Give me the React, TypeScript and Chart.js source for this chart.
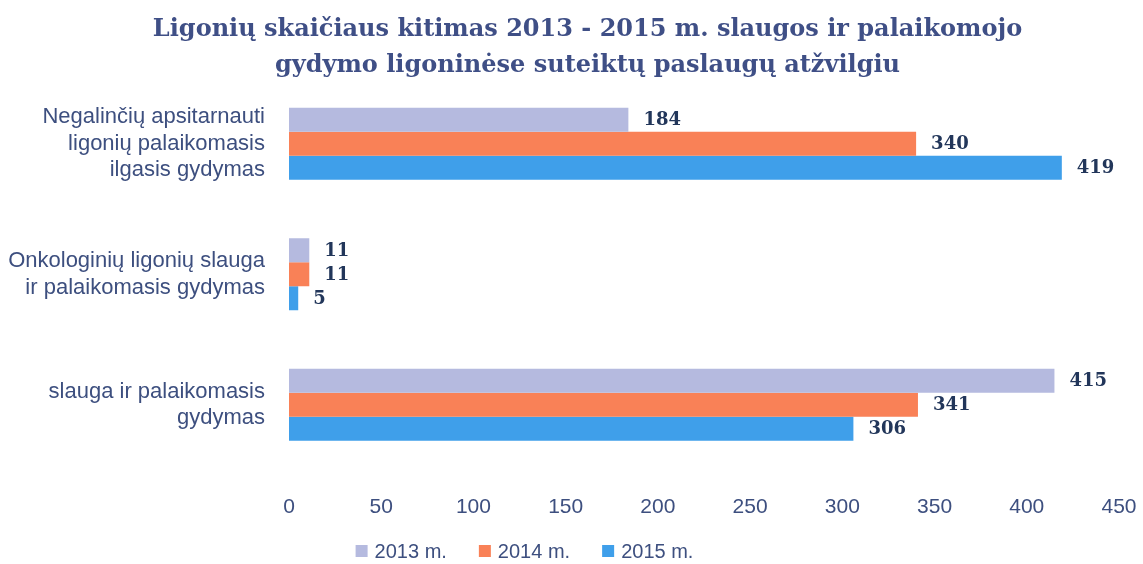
import React, { useEffect, useRef } from "react";
import { Chart, registerables } from "chart.js";

Chart.register(...registerables);

const titleLines = [
  "Ligonių skaičiaus kitimas 2013 - 2015 m. slaugos ir palaikomojo",
  "gydymo ligoninėse suteiktų paslaugų atžvilgiu",
];
const categories = [
  ["Negalinčių apsitarnauti", "ligonių palaikomasis", "ilgasis gydymas"],
  ["Onkologinių ligonių slauga", "ir palaikomasis gydymas"],
  ["slauga ir palaikomasis", "gydymas"],
];
const seriesNames = ["2013 m.", "2014 m.", "2015 m."];
const values2013 = [184, 11, 415];
const values2014 = [340, 11, 341];
const values2015 = [419, 5, 306];
const seriesColors = ["#b5badf", "#f98157", "#3f9fea"];
const xMin = 0;
const xMax = 450;
const xStep = 50;

const textColor = "#3d4f7f";
const labelColor = "#22365a";

const shiftPlugin = {
  id: "shiftBoxes",
  afterLayout(chart: any) {
    const tb = chart.titleBlock;
    if (tb) {
      tb.left += 16;
      tb.right += 16;
    }
  },
};

// legend drawn from the datasets' labels and colours
const bottomLegend = {
  id: "bottomLegend",
  afterDraw(chart: any) {
    const ctx = chart.ctx;
    ctx.save();
    ctx.font = "20px 'Liberation Sans'";
    ctx.textBaseline = "middle";
    ctx.textAlign = "left";
    const box = 12;
    const gap = 7;
    const itemGap = 32;
    const items = chart.data.datasets.map((ds: any) => ({
      text: ds.label,
      color: ds.backgroundColor,
      w: ctx.measureText(ds.label).width,
    }));
    const total =
      items.reduce((a: number, it: any) => a + box + gap + it.w, 0) +
      itemGap * (items.length - 1);
    let x = chart.width / 2 - 47 - total / 2;
    const y = 551;
    items.forEach((it: any) => {
      ctx.fillStyle = it.color;
      ctx.fillRect(x, y - box / 2, box, box);
      x += box + gap;
      ctx.fillStyle = textColor;
      ctx.fillText(it.text, x, y + 1);
      x += it.w + itemGap;
    });
    ctx.restore();
  },
};

const valueLabels = {
  id: "valueLabels",
  afterDatasetsDraw(chart: any) {
    const ctx = chart.ctx;
    ctx.save();
    ctx.font = "bold 18px 'DejaVu Serif'";
    ctx.fillStyle = labelColor;
    ctx.textAlign = "left";
    ctx.textBaseline = "middle";
    chart.data.datasets.forEach((ds: any, i: number) => {
      const meta = chart.getDatasetMeta(i);
      meta.data.forEach((el: any, j: number) => {
        ctx.fillText(String(ds.data[j]), el.x + 15, el.y + 1);
      });
    });
    ctx.restore();
  },
};

export default function App() {
  const ref = useRef<HTMLCanvasElement | null>(null);
  useEffect(() => {
    document.body.style.margin = "0";
    const data = [values2013, values2014, values2015];
    const chart = new Chart(ref.current as HTMLCanvasElement, {
      type: "bar",
      data: {
        labels: categories as any,
        datasets: seriesNames.map((name, i) => ({
          label: name,
          data: data[i],
          backgroundColor: seriesColors[i],
          borderWidth: 0,
          categoryPercentage: 0.55,
          barPercentage: 1.0,
        })),
      },
      options: {
        indexAxis: "y",
        animation: false,
        responsive: false,
        maintainAspectRatio: false,
        layout: { padding: { left: 0, right: 0, top: 0, bottom: 44 } },
        scales: {
          x: {
            min: xMin,
            max: xMax,
            afterFit(s: any) {
              s.paddingRight = 24;
              s.height = 50;
            },
            ticks: {
              stepSize: xStep,
              color: textColor,
              padding: 25,
              font: { family: "'Liberation Sans'", size: 21 },
            },
            grid: { display: false, drawTicks: false },
            border: { display: false },
          },
          y: {
            afterFit(s: any) {
              s.width = 289;
              s.paddingTop = 0;
              s.paddingBottom = 0;
            },
            ticks: {
              color: textColor,
              padding: 24,
              font: { family: "'Liberation Sans'", size: 22, lineHeight: 1.2 },
            },
            grid: { display: false, drawTicks: false },
            border: { display: false },
          },
        },
        plugins: {
          title: {
            display: true,
            text: titleLines,
            color: "#3f4f86",
            font: { family: "'DejaVu Serif'", size: 24, weight: "bold", lineHeight: 1.5 },
            padding: { top: 12, bottom: -5.5 },
          },
          legend: { display: false },
          tooltip: { enabled: false },
        },
      },
      plugins: [shiftPlugin, valueLabels, bottomLegend],
    } as any);
    return () => chart.destroy();
  }, []);
  return (
    <div style={{ width: 1143, height: 564 }}>
      <canvas ref={ref} width={1143} height={564} style={{ display: "block" }} />
    </div>
  );
}
